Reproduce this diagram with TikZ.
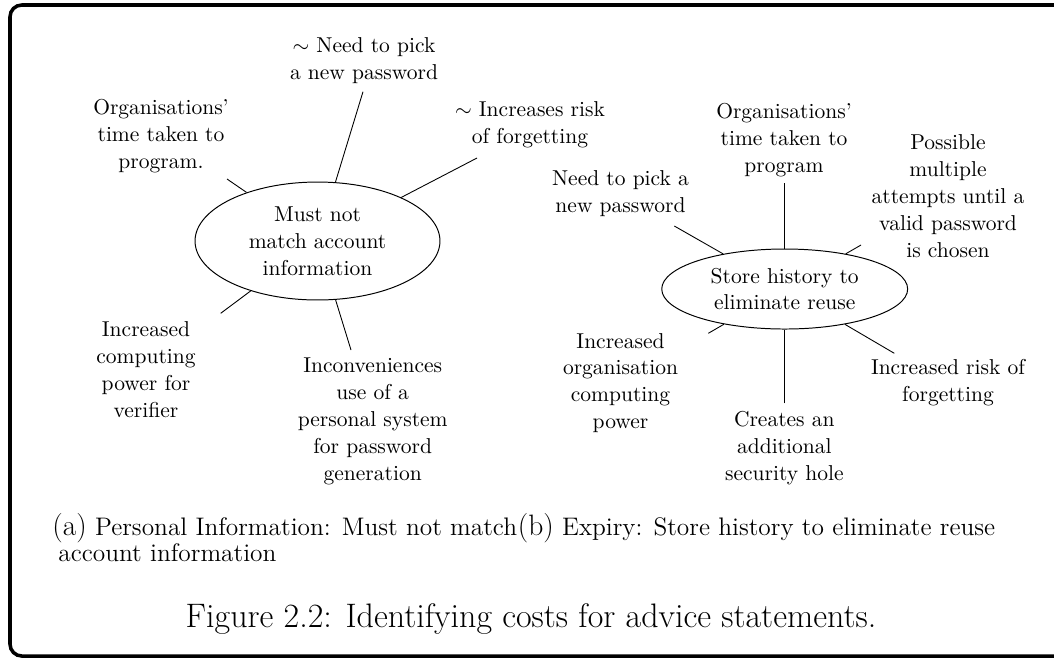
\documentclass[tikz,border=0pt]{standalone}
\usetikzlibrary{shapes.geometric}
\begin{document}
\begin{tikzpicture}[x=0.5087pt,y=-0.5087pt,
  cost/.style={align=center, inner sep=0pt, font=\fontsize{10.95}{13.7}\selectfont},
  idea/.style={draw, ellipse, inner sep=0pt, align=center, line width=0.5pt,
    font=\fontsize{10.95}{13.7}\selectfont},
  spoke/.style={line width=0.45pt},
  subcap/.style={inner sep=0pt, font=\fontsize{12.9}{15}\selectfont},
  outerframe/.style={line width=1.8pt, rounded corners=6pt}]
\useasboundingbox (0,0) rectangle (1054,657);
\clip (0,0) rectangle (1054,657);

% outer frame, running past the right edge of the page
\draw[outerframe, overlay] (10,5) rectangle (1090,656);

% ---------- (a) Personal information ----------
\node[idea, minimum width=124.6pt, minimum height=60pt] (ellL) at (317.5,241)
  {Must not\\match account\\information};

\node[cost] (Lneed)  at (364,61)    {$\sim$ Need to pick\\a new password};
\node[cost] (Lorg)   at (161,136)   {Organisations'\\time taken to\\program.};
\node[cost] (Linc)   at (530,125)   {$\sim$ Increases risk\\of forgetting};
\node[cost] (Lcomp)  at (146,370)   {Increased\\computing\\power for\\verifier};
\node[cost] (Lincon) at (372.7,421) {Inconveniences\\use of a\\personal system\\for password\\generation};

\coordinate (eLneed)  at (363,91.7);
\coordinate (eLorg)   at (227,179);
\coordinate (eLinc)   at (477,158);
\coordinate (eLcomp)  at (220.7,313.3);
\coordinate (eLincon) at (351,350);

\foreach \e in {eLneed,eLorg,eLinc,eLcomp,eLincon}
  \draw[spoke] (\e) -- (ellL);

% ---------- (b) Expiry ----------
\node[idea, minimum width=125.1pt, minimum height=40.7pt] (ellR) at (784.7,289)
  {Store history to\\eliminate reuse};

\node[cost] (Rorg)     at (784,140)   {Organisations'\\time taken to\\program};
\node[cost] (Rneed)    at (620.5,194) {Need to pick a\\new password};
\node[cost] (Rposs)    at (948,196)   {Possible\\multiple\\attempts until a\\valid password\\is chosen};
\node[cost] (Rincorg)  at (620.5,383) {Increased\\organisation\\computing\\power};
\node[cost] (Rcreates) at (784.3,448) {Creates an\\additional\\security hole};
\node[cost] (Rrisk)    at (948,383)   {Increased risk of\\forgetting};

\coordinate (eRorg)     at (784.7,183.3);
\coordinate (eRneed)    at (674.3,226);
\coordinate (eRposs)    at (861,245);
\coordinate (eRincorg)  at (708.3,333.3);
\coordinate (eRcreates) at (784.7,403.3);
\coordinate (eRrisk)    at (894.3,353.3);

\foreach \e in {eRorg,eRneed,eRposs,eRincorg,eRcreates,eRrisk}
  \draw[spoke] (\e) -- (ellR);

% ---------- sub-captions and caption ----------
\node[subcap, anchor=base west] (subA) at (52,535.5)
  {{\fontsize{15}{17}\selectfont(a)} Personal Information: Must not match};
\node[subcap, anchor=base west] (subA2) at (58,561.5) {account information};
\node[subcap, anchor=base west] (subB) at (subA.base east)
  {{\fontsize{15}{17}\selectfont(b)} Expiry: Store history to eliminate reuse};

\node[inner sep=0pt, anchor=base, font=\fontsize{17.28}{21}\selectfont] (cap) at (531,627)
  {Figure 2.2: Identifying costs for advice statements.};
\end{tikzpicture}
\end{document}
